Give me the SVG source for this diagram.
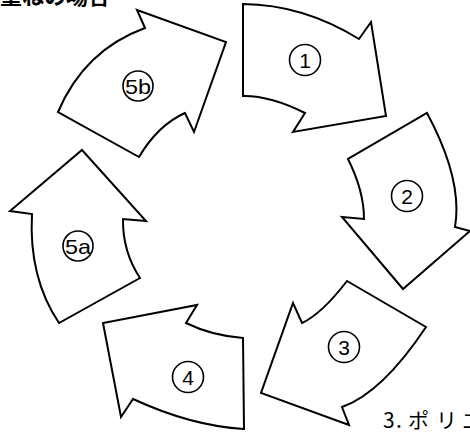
<svg xmlns="http://www.w3.org/2000/svg" width="470" height="434" viewBox="0 0 470 434">
<style>
.arrow{fill:#fff;stroke:#000;stroke-width:2;stroke-linejoin:miter}
.lc{fill:none;stroke:#000;stroke-width:1.6}
.lt{font-family:"Liberation Sans",Arial,sans-serif;font-size:21px;fill:#000;text-anchor:middle}
.jp{font-family:"Noto Sans CJK JP","Noto Sans",sans-serif;fill:#000}
</style>
<rect width="470" height="434" fill="#fff"/>
<text class="jp" x="0" y="4" font-size="22" font-weight="bold">重ねの場合</text>
<g id="connectors"></g>
<g id="arrow1">
<path class="arrow" d="M243,4 Q303,4.5 359,39 L371,22 L386,116 L293,132 L305,113 Q270,95.5 243,96 Z"/>
<circle class="lc" cx="305" cy="60" r="15.5"/>
<text class="lt" x="305" y="67.5">1</text>
</g>
<g id="arrow2">
<path class="arrow" d="M427,113 Q463,180 455,227 L470,231 L403,289 L342,217 L364,219 Q364,191 348,159 Z"/>
<circle class="lc" cx="407" cy="196" r="15.5"/>
<text class="lt" x="407" y="203.5">2</text>
</g>
<g id="arrow3">
<path class="arrow" d="M347,281 L426,327 Q382,393 342,407 L349,425 L261,393 L293,303 L302,323 Q321.5,314 347,281 Z"/>
<circle class="lc" cx="344" cy="347" r="15.5"/>
<text class="lt" x="344" y="354.5">3</text>
</g>
<g id="arrow4">
<path class="arrow" d="M197,305 L186,323 Q211.5,335.5 243,338 L244,429 Q191.5,426 133,399 L121,417 L103,323 Z"/>
<circle class="lc" cx="188" cy="377" r="15.5"/>
<text class="lt" x="188" y="384.5">4</text>
</g>
<g id="arrow5a">
<path class="arrow" d="M82,150 L146,221 L123,219 Q122.5,251.5 140,278 L59,323 Q28.5,277.5 32,214 L10,211 Z"/>
<circle class="lc" cx="78" cy="246" r="15"/>
<text class="lt" x="78" y="254" font-size="23" textLength="26" lengthAdjust="spacingAndGlyphs">5a</text>
</g>
<g id="arrow5b">
<path class="arrow" d="M137,10 L226,42 L194,132 L185,113 Q158,125 139,157 L58,112 Q84.5,50 145,28 Z"/>
<circle class="lc" cx="138" cy="86" r="15"/>
<text class="lt" x="138" y="94" font-size="23" textLength="26" lengthAdjust="spacingAndGlyphs">5b</text>
</g>
<text class="jp" font-size="21" y="428"><tspan x="383">3</tspan><tspan x="396">.</tspan><tspan x="408">ポ</tspan><tspan x="436">リ</tspan><tspan x="462">エ</tspan></text>
</svg>
